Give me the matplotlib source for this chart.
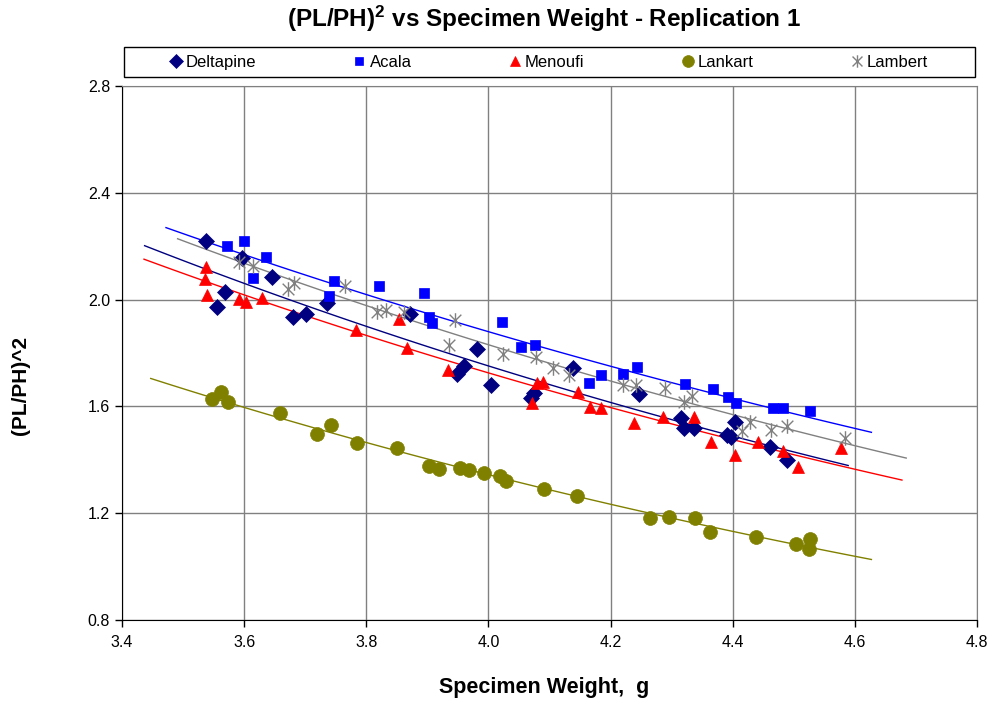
import numpy as np
import matplotlib
matplotlib.use("Agg")
import matplotlib.pyplot as plt
from matplotlib.path import Path
from matplotlib.patches import Rectangle

plt.rcParams['font.family'] = ['Liberation Sans', 'DejaVu Sans']
plt.rcParams['mathtext.fontset'] = 'custom'
plt.rcParams['mathtext.rm'] = 'Liberation Sans'
plt.rcParams['mathtext.bf'] = 'Liberation Sans:bold'

# ---------------------------------------------
# data (weight g, (PL/PH)^2)
# ---------------------------------------------
deltapine_x = [3.537, 3.555, 3.569, 3.596, 3.646, 3.680, 3.701, 3.736, 3.872, 3.949,
               3.960, 3.981, 4.004, 4.070, 4.075, 4.139, 4.247, 4.316, 4.320, 4.337,
               4.390, 4.397, 4.404, 4.461, 4.489]
deltapine_y = [2.221, 1.973, 2.030, 2.156, 2.085, 1.935, 1.945, 1.986, 1.946, 1.720,
               1.751, 1.814, 1.680, 1.631, 1.649, 1.743, 1.647, 1.556, 1.518, 1.518,
               1.492, 1.487, 1.540, 1.447, 1.399]

acala_x = [3.572, 3.600, 3.615, 3.635, 3.739, 3.747, 3.821, 3.895, 3.903, 3.907,
           4.022, 4.053, 4.076, 4.165, 4.184, 4.220, 4.243, 4.321, 4.367, 4.393,
           4.405, 4.466, 4.483, 4.527]
acala_y = [2.201, 2.220, 2.082, 2.158, 2.015, 2.070, 2.051, 2.026, 1.936, 1.914,
           1.917, 1.824, 1.830, 1.689, 1.718, 1.721, 1.746, 1.684, 1.664, 1.634,
           1.612, 1.593, 1.595, 1.583]

menoufi_x = [3.537, 3.536, 3.539, 3.592, 3.603, 3.630, 3.783, 3.854, 3.866, 3.933,
             4.072, 4.079, 4.089, 4.146, 4.166, 4.185, 4.239, 4.285, 4.337, 4.364,
             4.404, 4.442, 4.483, 4.506, 4.577]
menoufi_y = [2.123, 2.076, 2.017, 2.002, 1.990, 2.005, 1.886, 1.926, 1.818, 1.737,
             1.612, 1.689, 1.693, 1.655, 1.597, 1.593, 1.539, 1.561, 1.561, 1.468,
             1.418, 1.468, 1.434, 1.372, 1.443]

lankart_x = [3.547, 3.562, 3.573, 3.658, 3.719, 3.742, 3.784, 3.850, 3.903, 3.919,
             3.953, 3.968, 3.993, 4.019, 4.029, 4.091, 4.145, 4.265, 4.296, 4.338,
             4.363, 4.438, 4.503, 4.527, 4.524]
lankart_y = [1.628, 1.653, 1.615, 1.574, 1.497, 1.530, 1.462, 1.443, 1.377, 1.366,
             1.368, 1.362, 1.350, 1.339, 1.322, 1.290, 1.264, 1.183, 1.187, 1.181,
             1.131, 1.112, 1.085, 1.102, 1.065]

lambert_x = [3.591, 3.614, 3.672, 3.682, 3.765, 3.817, 3.832, 3.861, 3.936, 3.945,
             4.023, 4.078, 4.106, 4.132, 4.220, 4.242, 4.289, 4.320, 4.334, 4.415,
             4.429, 4.462, 4.489, 4.584]
lambert_y = [2.142, 2.127, 2.039, 2.061, 2.051, 1.955, 1.961, 1.955, 1.830, 1.924,
             1.796, 1.786, 1.745, 1.718, 1.681, 1.681, 1.668, 1.618, 1.639, 1.509,
             1.543, 1.512, 1.527, 1.481]

# asterisk marker: X plus a vertical bar (Excel style)
star_path = Path(
    [(-1, -1), (1, 1), (-1, 1), (1, -1), (0, -1.25), (0, 1.25)],
    [Path.MOVETO, Path.LINETO, Path.MOVETO, Path.LINETO, Path.MOVETO, Path.LINETO])

series = [
    ("Deltapine", deltapine_x, deltapine_y, "#000080", "D", 8),
    ("Acala", acala_x, acala_y, "#0000FF", "s", 7),
    ("Menoufi", menoufi_x, menoufi_y, "#FF0000", "^", 8.5),
    ("Lankart", lankart_x, lankart_y, "#808000", "o", 10),
    ("Lambert", lambert_x, lambert_y, "#808080", star_path, 10.5),
]

fig = plt.figure(figsize=(9.96, 7.06), dpi=100)
ax = fig.add_axes([0.1225, 0.1218, 0.8585, 0.7564])

handles = []
for name, xs, ys, col, mk, ms in series:
    xs = np.array(xs)
    ys = np.array(ys)
    # exponential trend line, extended 0.1 g each way
    b, a = np.polyfit(xs, np.log(ys), 1)
    xt = np.linspace(xs.min() - 0.1, xs.max() + 0.1, 100)
    ax.plot(xt, np.exp(a + b * xt), color=col, lw=1.0, zorder=2)
    if mk is star_path:
        h, = ax.plot(xs, ys, ls="none", marker=mk, ms=ms, mfc="none",
                     mec=col, mew=1.0, label=name, zorder=3)
    else:
        h, = ax.plot(xs, ys, ls="none", marker=mk, ms=ms, mfc=col,
                     mec=col, mew=0.5, label=name, zorder=3)
    handles.append(h)

ax.set_xlim(3.4, 4.8)
ax.set_ylim(0.8, 2.8)
ax.set_xticks(np.arange(3.4, 4.81, 0.2))
ax.set_yticks(np.arange(0.8, 2.81, 0.4))
ax.xaxis.set_major_formatter(matplotlib.ticker.FormatStrFormatter("%.1f"))
ax.yaxis.set_major_formatter(matplotlib.ticker.FormatStrFormatter("%.1f"))
ax.grid(True, color="#808080", lw=1.0)
ax.set_axisbelow(True)
ax.tick_params(direction="out", length=5, width=1, labelsize=11.5, colors="black")
ax.tick_params(axis="x", pad=6)
for side in ["top", "right"]:
    ax.spines[side].set_color("#808080")
for side in ["left", "bottom"]:
    ax.spines[side].set_color("black")

ax.set_xlabel("Specimen Weight,  g", fontsize=15.5, fontweight="bold", va="center")
ax.xaxis.set_label_coords(0.4936, -0.127)
ax.set_ylabel("(PL/PH)^2", fontsize=15, fontweight="bold", va="center")
ax.yaxis.set_label_coords(-0.119, 0.44)

fig.text(0.546, 0.973, r"$\mathbf{(PL/PH)^2}$ vs Specimen Weight - Replication 1",
         ha="center", va="center", fontsize=17.5, fontweight="bold")

# legend frame spanning the plot width, entries placed inside it
fig.add_artist(Rectangle((124 / 996, 1 - 77 / 706), 851 / 996, 30 / 706,
                         transform=fig.transFigure, fill=False,
                         edgecolor="black", lw=1.0))
leg = fig.legend(handles=handles, loc="center left", ncol=5,
                 bbox_to_anchor=(0.168, 0.912), borderaxespad=0, borderpad=0,
                 fontsize=12, frameon=False, handlelength=1.0,
                 handletextpad=0.1, columnspacing=5.7, markerscale=0.85)

fig.savefig("out.png", dpi=100)
